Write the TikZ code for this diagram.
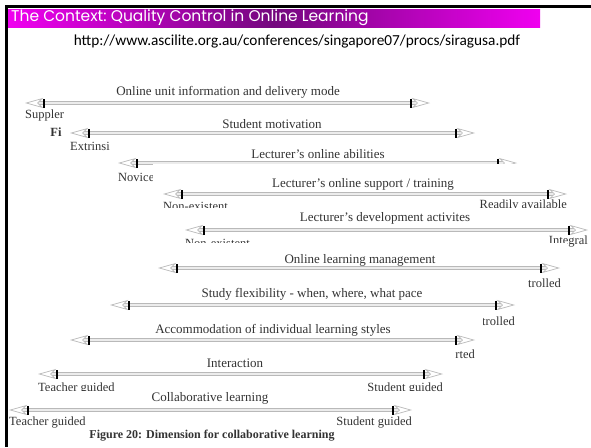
\documentclass[tikz,border=0pt]{standalone}
\usepackage{fontspec}
\setmainfont{Liberation Serif}
\newfontfamily\urlfont{Carlito}
\newfontfamily\headfont{Poppins}
\usepackage{tikz}
\usetikzlibrary{arrows.meta, positioning, calc}
\usepackage{xcolor}
\definecolor{slidepink}{HTML}{F000F0}
\definecolor{slidepurple}{HTML}{74087E}

\begin{document}
\begin{tikzpicture}[
        x=1pt, y=-1pt,
        dim/.style={draw=gray!55, double=gray!15, double distance=2.4pt, line width=1pt,
            {Stealth[open, length=18pt, width=10pt, inset=5pt, gray!55, fill=white, line width=0.7pt] Bar[black, width=9pt, line width=2pt]}-{Bar[black, width=9pt, line width=2pt] Stealth[open, length=18pt, width=10pt, inset=5pt, gray!55, fill=white, line width=0.7pt]}},
        toplab/.style={font=\fontsize{13}{15}\selectfont, text=black!80, inner sep=0pt},
        endlab/.style={font=\fontsize{12.5}{14}\selectfont, text=black!80, inner sep=0pt},
        cover/.style={fill=white, draw=none}
    ]
        \useasboundingbox (0,0) rectangle (591,447);
        \fill[white] (0,0) rectangle (591,447);

        % Online unit information
        \coordinate (r1a) at (25,103);
        \coordinate (r1b) at (430,103);
        \draw[dim] (r1a) -- (r1b);
        \node[toplab] (r1t) at (228,92) {Online unit information and delivery mode};
        \node[endlab, anchor=west] (r1l) at (25,115) {Suppler};
        \node[endlab, font=\fontsize{12.5}{14}\selectfont\bfseries] (r1f) at (56,132) {Fi};

        % Student motivation
        \coordinate (r2a) at (70,133);
        \coordinate (r2b) at (475,133);
        \draw[dim] (r2a) -- (r2b);
        \node[toplab] (r2t) at (272,124) {Student motivation};
        \node[endlab, anchor=west] (r2l) at (70,146) {Extrinsi};

        % Lecturer's online abilities
        \coordinate (r3a) at (118,163);
        \coordinate (r3b) at (517,163);
        \draw[dim] (r3a) -- (r3b);
        \node[toplab] (r3t) at (318,154) {Lecturer's online abilities};
        \node[endlab, anchor=west] (r3l) at (118,177) {Novice};

        % Lecturer's online support
        \fill[cover] (153,164) rectangle (580,207);
        \coordinate (r4a) at (163,194);
        \coordinate (r4b) at (567,194);
        \draw[dim] (r4a) -- (r4b);
        \node[toplab] (r4t) at (363,184) {Lecturer's online support / training};
        \node[endlab, anchor=west] (r4l) at (163,206) {Non-existent};
        \node[endlab, anchor=east] (r4r) at (567,206) {Readily available};

        % Lecturer's development
        \fill[cover] (158,208) rectangle (591,242);
        \coordinate (r5a) at (185,230);
        \coordinate (r5b) at (588,230);
        \draw[dim] (r5a) -- (r5b);
        \node[toplab] (r5t) at (385,218) {Lecturer's development activites};
        \node[endlab, anchor=west] (r5l) at (185,243) {Non-existent};
        \node[endlab, anchor=east] (r5r) at (588,242) {Integral};

        % Online learning management
        \fill[cover] (150,243) rectangle (567,279);
        \coordinate (r6a) at (158,268);
        \coordinate (r6b) at (560,268);
        \draw[dim] (r6a) -- (r6b);
        \node[toplab] (r6t) at (360,260) {Online learning management};

        % Study flexibility
        \fill[cover] (100,279) rectangle (521,316);
        \coordinate (r7a) at (110,305);
        \coordinate (r7b) at (515,305);
        \draw[dim] (r7a) -- (r7b);
        \node[toplab] (r7t) at (312,294) {Study flexibility - when, where, what pace};
        \node[endlab, anchor=east] (r6r) at (561,283) {trolled};
        \node[endlab, anchor=east] (r7r) at (515,321) {trolled};

        % Accommodation of learning styles
        \fill[cover] (60,317) rectangle (483,349);
        \coordinate (r8a) at (70,340);
        \coordinate (r8b) at (475,340);
        \draw[dim] (r8a) -- (r8b);
        \node[toplab] (r8t) at (273,330) {Accommodation of individual learning styles};

        % Interaction
        \fill[cover] (30,350) rectangle (452,390);
        \coordinate (r9a) at (38,374);
        \coordinate (r9b) at (443,374);
        \draw[dim] (r9a) -- (r9b);
        \node[toplab] (r9t) at (235,363) {Interaction};
        \node[endlab, anchor=east] (r8r) at (475,354) {rted};
        \node[endlab, anchor=west] (r9l) at (38,389) {Teacher guided};
        \node[endlab, anchor=east] (r9r) at (443,389) {Student guided};

        % Collaborative learning
        \fill[cover] (0,391) rectangle (421,447);
        \coordinate (r10a) at (9,410);
        \coordinate (r10b) at (412,410);
        \draw[dim] (r10a) -- (r10b);
        \node[toplab] (r10t) at (210,398) {Collaborative learning};
        \node[endlab, anchor=west] (r10l) at (9,423) {Teacher guided};
        \node[endlab, anchor=east] (r10r) at (412,423) {Student guided};
        \node[toplab, font=\fontsize{12}{14}\selectfont\bfseries] (cap) at (212,436) {Figure 20: Dimension for collaborative learning};

        % Slide frame and title
        \fill[black] (5,5) rectangle (591,8);
        \fill[black] (5,5) rectangle (8,447);
        \shade[left color=slidepink, right color=slidepink, middle color=slidepurple] (8,9) rectangle (540,27);
        \node[font=\headfont\fontsize{15.5}{17}\selectfont, text=white, anchor=west, inner sep=0pt] (title) at (11,18) {The Context:\ Quality Control in Online Learning};
        \node[font=\urlfont\fontsize{15.3}{17}\selectfont, inner sep=0pt] (url) at (297,42) {http://www.ascilite.org.au/conferences/singapore07/procs/siragusa.pdf};
    \end{tikzpicture}
\end{document}
